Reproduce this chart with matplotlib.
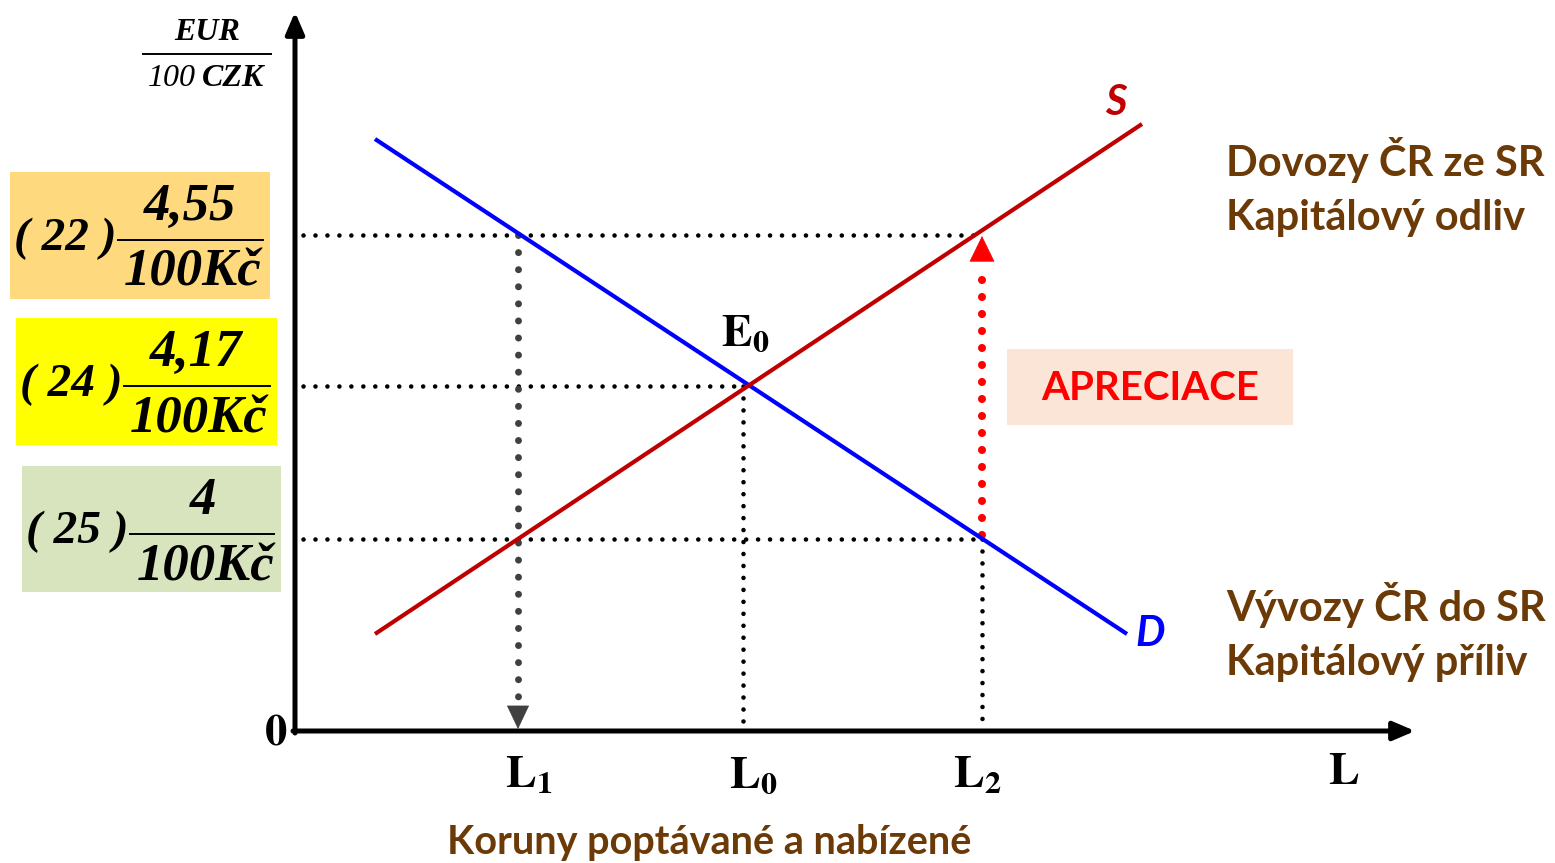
import matplotlib
matplotlib.use("Agg")
import matplotlib.pyplot as plt
from matplotlib.patches import Rectangle

# ---- data (schematic chart units) ----
q_levels = {"L1": 223, "L0": 448, "L2": 687}
price_levels = [496, 345, 192]            # 4,55 ; 4,17 ; 4  (EUR / 100 CZK)
price_labels = ["4,55", "4,17", "4"]
rank_labels = ["22", "24", "25"]
box_colors = ["#ffd97d", "#ffff00", "#d7e4bd"]
demand_q = [80, 832]
demand_p = [592, 97]
supply_q = [80, 847]
supply_p = [97, 607]
hline_end = [q_levels["L2"], q_levels["L0"], q_levels["L2"]]

W, H = 1555, 863
fig = plt.figure(figsize=(W / 100, H / 100), dpi=100)
ax = fig.add_axes([0, 0, 1, 1])
ax.set_xlim(-295, W - 295)
ax.set_ylim(-(H - 731), 731)
ax.axis("off")
plt.rcParams["mathtext.fontset"] = "stix"

def P(px, py):
    return px - 295, 731 - py

SERIF = "Liberation Serif"
SANS = "Lato"
BROWN = "#6b3a06"

# axes with arrows
ax.annotate("", xy=(0, 731 - 12), xytext=(0, -2),
            arrowprops=dict(arrowstyle="-|>,head_length=0.65,head_width=0.28", lw=3.6, color="black",
                            mutation_scale=20, shrinkA=0, shrinkB=0))
ax.annotate("", xy=(1415 - 295, 0), xytext=(-2, 0),
            arrowprops=dict(arrowstyle="-|>,head_length=0.65,head_width=0.28", lw=3.6, color="black",
                            mutation_scale=20, shrinkA=0, shrinkB=0))

# dotted helper lines
black_dots = dict(color="black", lw=3.3, linestyle=(0, (0.01, 2.6)), dash_capstyle="round")
for p, qe in zip(price_levels, hline_end):
    ax.plot([8, qe], [p, p], **black_dots, zorder=2)
ax.plot([q_levels["L0"], q_levels["L0"]], [price_levels[1], 4], **black_dots, zorder=2)
ax.plot([q_levels["L2"], q_levels["L2"]], [price_levels[2], 4], **black_dots, zorder=2)

# grey arrow down at L1
ax.plot([q_levels["L1"], q_levels["L1"]], [price_levels[0], 28], color="#404040", lw=5.0,
        linestyle=(0, (0.01, 2.45)), dash_capstyle="round", zorder=2)
ax.annotate("", xy=(q_levels["L1"], 2), xytext=(q_levels["L1"], 25),
            arrowprops=dict(arrowstyle="-|>,head_length=0.8,head_width=0.38", lw=0.5, color="#404040",
                            mutation_scale=20, shrinkA=0, shrinkB=0), zorder=3)

# red arrow up at L2
ax.plot([q_levels["L2"], q_levels["L2"]], [price_levels[2] + 4, price_levels[0] - 32], color="#ff0000", lw=5.8,
        linestyle=(0, (0.01, 2.1)), dash_capstyle="round", zorder=3)
ax.annotate("", xy=(q_levels["L2"], price_levels[0] - 1), xytext=(q_levels["L2"], price_levels[0] - 26),
            arrowprops=dict(arrowstyle="-|>,head_length=0.88,head_width=0.43", lw=0.5, color="#ff0000",
                            mutation_scale=20, shrinkA=0, shrinkB=0), zorder=3)

# demand & supply
ax.plot(demand_q, demand_p, color="#0000ff", lw=3.0, solid_capstyle="butt", zorder=4)
ax.plot(supply_q, supply_p, color="#c00000", lw=3.0, solid_capstyle="butt", zorder=5)

# axis labels
ax.text(*P(276, 735), "0", fontsize=32, fontweight="bold", family="STIXGeneral", ha="center", va="center")
for name, px in [("1", 529), ("0", 753), ("2", 977)]:
    ax.text(*P(px, 775), r"$\mathbf{L_{%s}}$" % name, fontsize=33, ha="center", va="center")
ax.text(*P(1343, 773), "L", fontsize=33, fontweight="bold", family="STIXGeneral", ha="center", va="center")
ax.text(*P(745, 333), r"$\mathbf{E_{0}}$", fontsize=33, ha="center", va="center")

ax.text(*P(1116, 103), "S", fontsize=30, fontweight="bold", style="italic", color="#c00000",
        family=SANS, ha="center", va="center")
ax.text(*P(1150, 634), "D", fontsize=30, fontweight="bold", style="italic", color="#0000ff",
        family=SANS, ha="center", va="center")

# y-axis unit fraction
ax.text(*P(207, 32), "EUR", fontsize=23, fontweight="bold", style="italic", family=SERIF, ha="center", va="center")
ax.plot([P(143, 0)[0], P(271, 0)[0]], [P(0, 54)[1]] * 2, color="black", lw=1.4)
ax.text(*P(196, 78), "100", fontsize=23, style="italic", family=SERIF, ha="right", va="center")
ax.text(*P(202, 78), "CZK", fontsize=23, fontweight="bold", style="italic", family=SERIF, ha="left", va="center")

# left boxes with exchange rates
boxes = [(10, 172, 260, 127), (16, 318, 261, 127), (22, 466, 259, 126)]
num_x = [190, 196, 203]
for (bx, by, bw, bh), col, rank, lab, nx in zip(boxes, box_colors, rank_labels, price_labels, num_x):
    x0, y0 = P(bx, by + bh)
    ax.add_patch(Rectangle((x0, y0), bw, bh, facecolor=col, edgecolor="none", zorder=1))
    cy = by + bh / 2
    ax.text(*P(bx + 55, cy + 3), "( %s )" % rank, fontsize=34, fontweight="bold", style="italic",
            family=SERIF, ha="center", va="center", zorder=2)
    ax.text(*P(nx, by + 35), lab, fontsize=38, fontweight="bold", style="italic",
            family=SERIF, ha="center", va="center", zorder=2)
    ax.plot([P(bx + 108, 0)[0], P(bx + bw - 7, 0)[0]], [P(0, by + 68)[1]] * 2, color="black", lw=1.4, zorder=2)
    ax.text(*P(nx + 3, by + 101), "100Kč", fontsize=38, fontweight="bold", style="italic",
            family=SERIF, ha="center", va="center", zorder=2)

# APRECIACE box
x0, y0 = P(1007, 425)
ax.add_patch(Rectangle((x0, y0), 286, 76, facecolor="#fbe5d6", edgecolor="none", zorder=1))
ax.text(*P(1150, 388), "APRECIACE", fontsize=29, fontweight="bold", color="#ff0000", family=SANS,
        ha="center", va="center", zorder=2)

# right labels
for txt, py in [("Dovozy ČR ze SR", 160), ("Kapitálový odliv", 218),
                ("Vývozy ČR do SR", 605), ("Kapitálový příliv", 663)]:
    ax.text(*P(1226, py), txt, fontsize=30, fontweight="bold", color=BROWN, family=SANS,
            ha="left", va="center")

ax.text(*P(709, 842), "Koruny poptávané a nabízené", fontsize=28.5, fontweight="bold", color=BROWN,
        family=SANS, ha="center", va="center")

fig.savefig("out.png", dpi=100)
